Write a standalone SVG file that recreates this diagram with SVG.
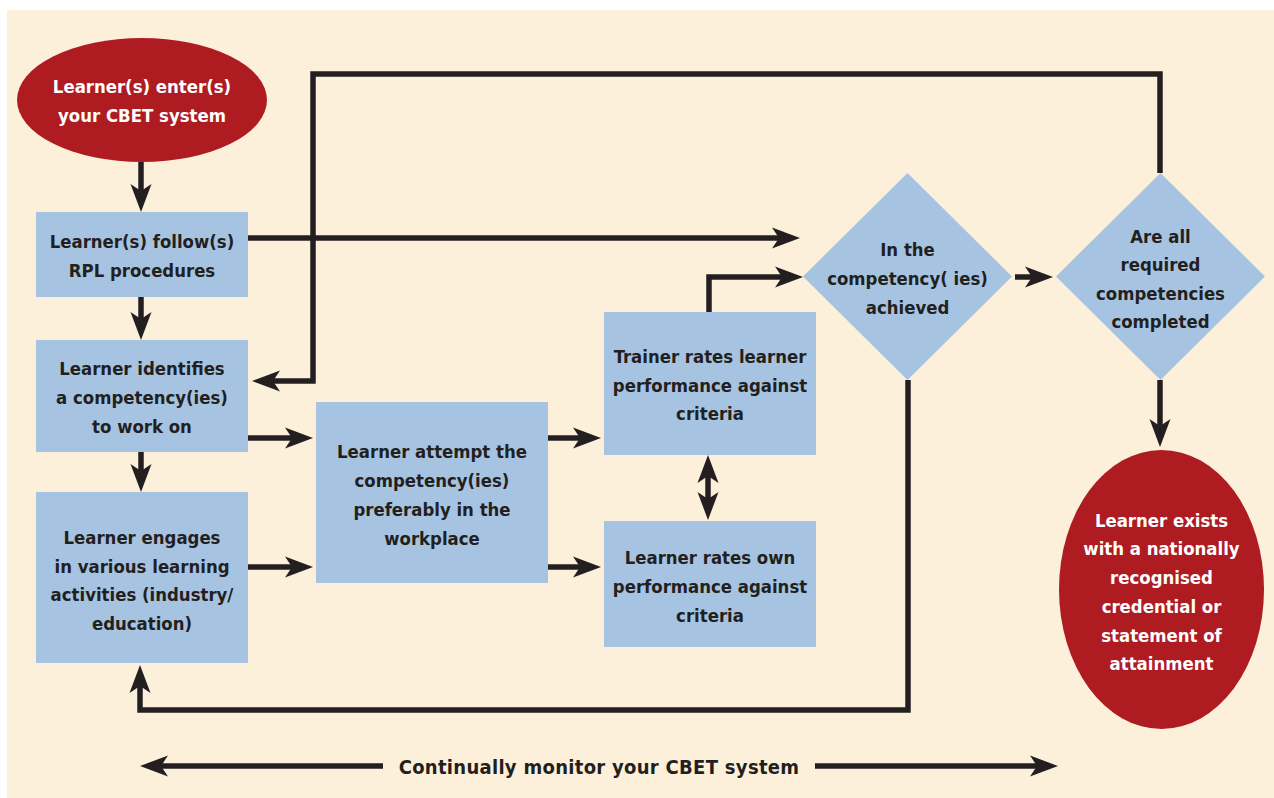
<svg xmlns="http://www.w3.org/2000/svg" width="1274" height="798" viewBox="0 0 1274 798">
<defs>
<marker id="ah" viewBox="-30 -12 32 24" refX="-8" refY="0" markerWidth="32" markerHeight="24" markerUnits="userSpaceOnUse" orient="auto-start-reverse">
<path d="M0,0 L-28,-10.5 L-21,0 L-28,10.5 Z" fill="#231f20"/>
</marker>
<style>
.bg{fill:#fdf0da}
.box{fill:#a6c4e1}
.red{fill:#ae1c22}
.c{fill:none;stroke:#231f20;stroke-width:5.5;stroke-linejoin:miter}
.a{marker-end:url(#ah)}
.d{marker-start:url(#ah);marker-end:url(#ah)}
text{font-family:'DejaVu Sans Condensed','Liberation Sans Narrow',sans-serif;font-weight:700;font-size:18.4px;text-anchor:middle;fill:#231f20}
.w{fill:#ffffff}
.big{font-size:20px;letter-spacing:0.3px}
</style>
</defs>
<rect class="bg" x="7" y="10" width="1267" height="788"/>
<g id="connectors">
<path class="c a" d="M141,162 V204"/>
<path class="c a" d="M141,297 V332"/>
<path class="c a" d="M141,452 V484"/>
<path class="c a" d="M248,238 H792"/>
<path class="c a" d="M1160,173 V74 H313 V381 H260"/>
<path class="c a" d="M248,438 H305"/>
<path class="c a" d="M248,567 H305"/>
<path class="c a" d="M548,438 H593"/>
<path class="c a" d="M548,567 H593"/>
<path class="c d" d="M708,463 V512"/>
<path class="c a" d="M709,312 V277 H795"/>
<path class="c a" d="M1015,277 H1045"/>
<path class="c a" d="M908,380 V710 H140 V673"/>
<path class="c a" d="M1160,380 V439"/>
<path class="c a" d="M383,766 H148"/>
<path class="c a" d="M815,766 H1050"/>
</g>
<g id="start">
<ellipse class="red" cx="142" cy="100" rx="125" ry="62"/>
<text class="w" x="142" y="93">Learner(s) enter(s)</text>
<text class="w" x="142" y="122">your CBET system</text>
</g>
<g id="rpl">
<rect class="box" x="36" y="212" width="212" height="85"/>
<text x="142" y="248">Learner(s) follow(s)</text>
<text x="142" y="277">RPL procedures</text>
</g>
<g id="identify">
<rect class="box" x="36" y="340" width="212" height="112"/>
<text x="142" y="375">Learner identifies</text>
<text x="142" y="404">a competency(ies)</text>
<text x="142" y="433">to work on</text>
</g>
<g id="engage">
<rect class="box" x="36" y="492" width="212" height="171"/>
<text x="142" y="544">Learner engages</text>
<text x="142" y="573">in various learning</text>
<text x="142" y="601">activities (industry/</text>
<text x="142" y="630">education)</text>
</g>
<g id="attempt">
<rect class="box" x="316" y="402" width="232" height="181"/>
<text x="432" y="458">Learner attempt the</text>
<text x="432" y="487">competency(ies)</text>
<text x="432" y="516">preferably in the</text>
<text x="432" y="545">workplace</text>
</g>
<g id="trainer">
<rect class="box" x="604" y="312" width="212" height="143"/>
<text x="710" y="363">Trainer rates learner</text>
<text x="710" y="392">performance against</text>
<text x="710" y="420">criteria</text>
</g>
<g id="self">
<rect class="box" x="604" y="521" width="212" height="126"/>
<text x="710" y="564">Learner rates own</text>
<text x="710" y="593">performance against</text>
<text x="710" y="622">criteria</text>
</g>
<g id="achieved">
<polygon class="box" points="907.5,173 1012,276.5 907.5,380 803,276.5"/>
<text x="907.5" y="256">In the</text>
<text x="907.5" y="285">competency( ies)</text>
<text x="907.5" y="314">achieved</text>
</g>
<g id="completed">
<polygon class="box" points="1160.5,173 1265,276.5 1160.5,380 1056,276.5"/>
<text x="1160.5" y="243">Are all</text>
<text x="1160.5" y="271">required</text>
<text x="1160.5" y="300">competencies</text>
<text x="1160.5" y="328">completed</text>
</g>
<g id="exit">
<ellipse class="red" cx="1161.5" cy="589.5" rx="102.5" ry="139.5"/>
<text class="w" x="1161.5" y="527">Learner exists</text>
<text class="w" x="1161.5" y="555">with a nationally</text>
<text class="w" x="1161.5" y="584">recognised</text>
<text class="w" x="1161.5" y="613">credential or</text>
<text class="w" x="1161.5" y="642">statement of</text>
<text class="w" x="1161.5" y="670">attainment</text>
</g>
<g id="monitor">
<text class="big" x="599" y="774">Continually monitor your CBET system</text>
</g>
</svg>
